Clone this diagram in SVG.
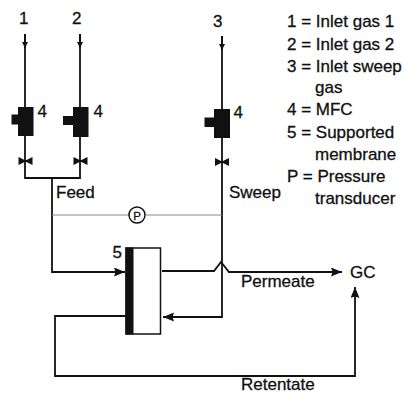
<svg xmlns="http://www.w3.org/2000/svg" width="406" height="393" viewBox="0 0 406 393">
<defs>
<marker id="arrow" markerUnits="userSpaceOnUse" markerWidth="12" markerHeight="10" refX="11" refY="4.500" orient="auto"><path d="M0 0 L11 4.500 L0 9 L1.500 4.500 Z" fill="#111"/></marker>
<marker id="small" markerUnits="userSpaceOnUse" markerWidth="7" markerHeight="8" refX="6" refY="3" orient="auto"><path d="M0 0 L6 3 L0 6 Z" fill="#111"/></marker>
<symbol id="valve" overflow="visible"><path d="M-7 -4 L-1 -1 L1 -1 L7 -4 L7 4 L1 1 L-1 1 L-7 4 Z" fill="#111"/></symbol>
</defs>
<style>
text{font-family:"Liberation Sans",Arial,sans-serif;font-size:17px;fill:#111;stroke:#111;stroke-width:.3px}
.c{fill:none;stroke:#111;stroke-width:1.8}
.g{fill:none;stroke:#888;stroke-width:1.2}
.b{fill:#111}
</style>
<g id="connectors">
<path class="c" d="M25 34V108"/><path class="c" d="M25 34V48" marker-end="url(#small)"/>
<path class="c" d="M80 34V108"/><path class="c" d="M80 34V48" marker-end="url(#small)"/>
<path class="c" d="M222 36V110"/><path class="c" d="M222 36V50" marker-end="url(#small)"/>
<path class="c" d="M25 135V178H80V135"/>
<path class="c" d="M52 178V272H125" marker-end="url(#arrow)"/>
<path class="c" d="M222 135V317H163" marker-end="url(#arrow)"/>
<path class="c" d="M162 271H214L221 262L229 272H342" marker-end="url(#arrow)"/>
<path class="c" d="M126 316H55V376H355V287" marker-end="url(#arrow)"/>
<path class="g" d="M52 215H129M146 215H222"/>
</g>
<g id="mfc1"><rect class="b" x="18" y="107" width="15.500" height="29"/><rect class="b" x="11.500" y="114.500" width="7" height="10"/><text x="37.500" y="117">4</text></g>
<g id="mfc2"><rect class="b" x="73" y="107" width="15.500" height="30"/><rect class="b" x="63" y="116" width="11" height="9"/><text x="93.500" y="117">4</text></g>
<g id="mfc3"><rect class="b" x="214" y="109" width="16" height="29"/><rect class="b" x="204.500" y="117.500" width="10" height="9.500"/><text x="233.500" y="118">4</text></g>
<g id="valve1"><use href="#valve" x="25.500" y="161"/></g>
<g id="valve2"><use href="#valve" x="80.500" y="161"/></g>
<g id="valve3"><use href="#valve" x="222" y="162"/></g>
<g id="membrane"><rect x="126" y="248" width="34.500" height="86" fill="#fff" stroke="#111" stroke-width="1.500"/><rect class="b" x="125.500" y="247.500" width="8" height="87"/><text x="112.500" y="258">5</text></g>
<g id="transducer"><circle cx="137" cy="215" r="8" fill="#fff" stroke="#111" stroke-width="1.500"/><text x="137" y="219.500" text-anchor="middle" style="font-size:11.500px">P</text></g>
<g id="labels">
<text x="19" y="24">1</text><text x="72" y="24">2</text><text x="213" y="27">3</text>
<text x="56" y="198">Feed</text><text x="229" y="198">Sweep</text>
<text x="241" y="287">Permeate</text><text x="241" y="390">Retentate</text><text x="350" y="278">GC</text>
<text x="287" y="27">1 = Inlet gas 1</text><text x="287" y="50">2 = Inlet gas 2</text><text x="287" y="72">3 = Inlet sweep</text><text x="315" y="93">gas</text>
<text x="287" y="115">4 = MFC</text><text x="287" y="138">5 = Supported</text><text x="315" y="160">membrane</text><text x="287" y="182">P = Pressure</text><text x="315" y="204">transducer</text>
</g>
</svg>
